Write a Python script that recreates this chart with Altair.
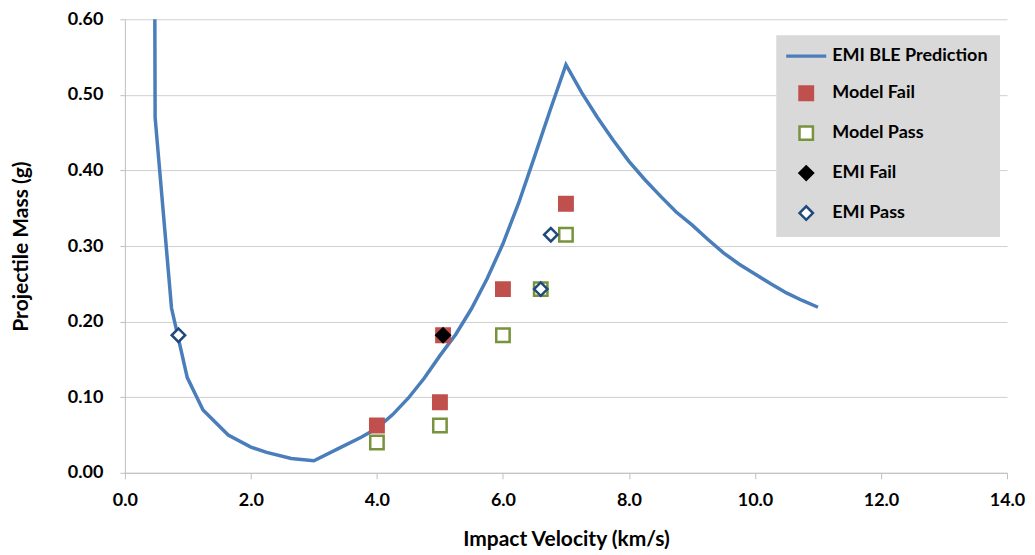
import altair as alt
import pandas as pd

# EMI BLE prediction curve (impact velocity km/s, projectile mass g)
ble_v = [0.47, 0.48, 0.74, 0.99, 1.24, 1.64, 2.0, 2.25, 2.64, 3.0, 3.41, 3.75, 4.0, 4.25, 4.5,
         4.75, 5.0, 5.25, 5.5, 5.75, 6.0, 6.25, 6.5, 6.75, 7.0, 7.25, 7.5, 7.75, 8.0, 8.25,
         8.5, 8.75, 9.0, 9.25, 9.5, 9.75, 10.0, 10.25, 10.5, 10.75, 11.0]
ble_m = [0.75, 0.47, 0.218, 0.126, 0.083, 0.050, 0.034, 0.027, 0.019, 0.016, 0.033, 0.047, 0.059,
         0.077, 0.099, 0.125, 0.155, 0.183, 0.217, 0.257, 0.303, 0.357, 0.418, 0.480, 0.540,
         0.503, 0.470, 0.440, 0.412, 0.388, 0.366, 0.345, 0.328, 0.309, 0.291, 0.276, 0.263,
         0.250, 0.238, 0.228, 0.219]

model_fail_v = [4.0, 5.0, 5.05, 6.0, 7.0]
model_fail_m = [0.0625, 0.0934, 0.182, 0.243, 0.356]
model_pass_v = [4.0, 5.0, 6.0, 6.6, 7.0]
model_pass_m = [0.040, 0.0625, 0.182, 0.243, 0.315]
emi_fail_v = [5.05]
emi_fail_m = [0.182]
emi_pass_v = [0.85, 6.6, 6.76]
emi_pass_m = [0.182, 0.243, 0.315]

names = ["EMI BLE Prediction", "Model Fail", "Model Pass", "EMI Fail", "EMI Pass"]
x_ticks = [0, 2, 4, 6, 8, 10, 12, 14]
y_ticks = [0.0, 0.1, 0.2, 0.3, 0.4, 0.5, 0.6]

line_df = pd.DataFrame({"v": ble_v, "m": ble_m, "i": list(range(len(ble_v)))})
rows = []
for name, vs, ms in [("Model Fail", model_fail_v, model_fail_m),
                     ("Model Pass", model_pass_v, model_pass_m),
                     ("EMI Fail", emi_fail_v, emi_fail_m),
                     ("EMI Pass", emi_pass_v, emi_pass_m)]:
    for v, m in zip(vs, ms):
        rows.append({"v": v, "m": m, "s": name})
pts_df = pd.DataFrame(rows)
pts_df["o"] = range(len(pts_df))

FONT = "Lato"
line_path = "M-2.8,-0.06L2.8,-0.06L2.8,0.06L-2.8,0.06Z"
shapes = [line_path, "square", "square", "diamond", "diamond"]
fills = ["#4a7ebb", "#c0504d", "white", "black", "white"]
strokes = ["#4a7ebb", "#c0504d", "#77933c", "black", "#1f497d"]

xs = alt.Scale(domain=[0, 14], nice=False)
ys = alt.Scale(domain=[0, 0.6], nice=False)

x_axis = alt.Axis(values=x_ticks, format=".1f", title="Impact Velocity (km/s)", grid=False,
                  labelFlush=False, labelOverlap=False, tickSize=6, labelPadding=13,
                  titlePadding=19)
y_axis = alt.Axis(values=y_ticks, format=".2f", title="Projectile Mass (g)", grid=True,
                  labelFlush=False, labelOverlap=False, tickSize=5, labelPadding=17,
                  titlePadding=36)

def leg():
    return alt.Legend(title=None, orient="none", legendX=652, legendY=16,
                      fillColor="#d9d9d9", padding=12, symbolOffset=9, labelOffset=17,
                      rowPadding=16, labelFont=FONT, labelFontSize=18,
                      labelFontWeight="bold", labelColor="black", symbolSize=180,
                      symbolStrokeWidth=2.5, labelLimit=300)

line = alt.Chart(line_df).mark_line(color="#4a7ebb", strokeWidth=3.5, clip=True).encode(
    x=alt.X("v:Q", scale=xs, axis=x_axis),
    y=alt.Y("m:Q", scale=ys, axis=y_axis),
    order=alt.Order("i:Q"),
)

points = alt.Chart(pts_df).mark_point(size=180, strokeWidth=2.5, opacity=1).encode(
    x=alt.X("v:Q", scale=xs),
    y=alt.Y("m:Q", scale=ys),
    shape=alt.Shape("s:N", scale=alt.Scale(domain=names, range=shapes), legend=leg()),
    fill=alt.Fill("s:N", scale=alt.Scale(domain=names, range=fills), legend=leg()),
    stroke=alt.Stroke("s:N", scale=alt.Scale(domain=names, range=strokes), legend=leg()),
    order=alt.Order("o:Q"),
)

chart = alt.layer(line, points).properties(
    width=883, height=454,
    autosize=alt.AutoSizeParams(type="none"),
    padding={"left": 117, "top": 11, "right": 20, "bottom": 80},
).configure_view(stroke=None).configure_axis(
    labelFont=FONT, labelFontSize=18, labelFontWeight="bold", labelColor="black",
    titleFont=FONT, titleFontSize=21, titleFontWeight="bold", titleColor="black",
    domainColor="#bfbfbf", tickColor="#bfbfbf", gridColor="#d0d0d0", domainWidth=1,
)

chart.save("out.html", embed_options={"renderer": "svg", "actions": False})
